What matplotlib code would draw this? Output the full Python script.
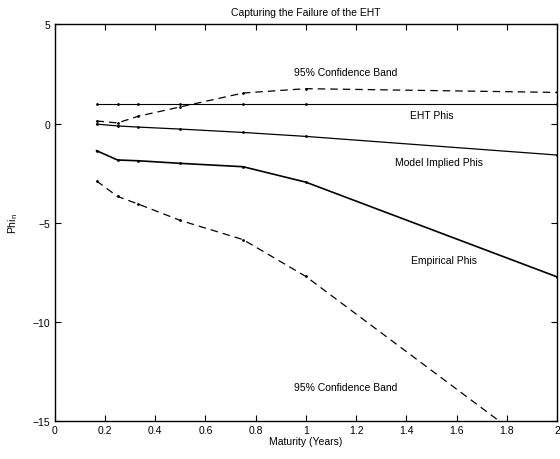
import numpy as np
import matplotlib
matplotlib.use("Agg")
import matplotlib.pyplot as plt
from matplotlib.ticker import FuncFormatter

plt.rcParams["font.family"] = ["Liberation Sans", "DejaVu Sans"]

# maturities in years (2, 3, 4, 6, 9, 12, 24 months)
maturity = [1 / 6, 0.25, 1 / 3, 0.5, 0.75, 1.0, 2.0]

eht_phis = [1.0, 1.0, 1.0, 1.0, 1.0, 1.0, 1.0]
model_phis = [-0.03, -0.12, -0.18, -0.28, -0.45, -0.65, -1.59]
empirical_phis = [-1.37, -1.84, -1.88, -2.01, -2.18, -2.96, -7.74]
band_upper = [0.13, 0.03, 0.37, 0.84, 1.54, 1.76, 1.57]
band_lower = [-2.90, -3.68, -4.07, -4.89, -5.86, -7.72, -17.2]

fig = plt.figure(figsize=(5.6, 4.6), dpi=100)
ax = fig.add_axes([0.0977, 0.0833, 0.897, 0.8613])

line_kw = dict(color="black", marker=".", markersize=2)
ax.plot(maturity, eht_phis, lw=0.8, **line_kw)
ax.plot(maturity, model_phis, lw=0.9, **line_kw)
ax.plot(maturity, empirical_phis, lw=1.2, **line_kw)
ax.plot(maturity, band_upper, lw=0.9, ls=(0, (6, 4)), **line_kw)
ax.plot(maturity, band_lower, lw=0.9, ls=(0, (6, 4)), **line_kw)

fs = 7.5
ax.text(1.16, 2.6, "95% Confidence Band", fontsize=fs, ha="center", va="center")
ax.text(1.5, 0.45, "EHT Phis", fontsize=fs, ha="center", va="center")
ax.text(1.53, -1.95, "Model Implied Phis", fontsize=fs, ha="center", va="center")
ax.text(1.55, -6.9, "Empirical Phis", fontsize=fs, ha="center", va="center")
ax.text(1.16, -13.3, "95% Confidence Band", fontsize=fs, ha="center", va="center")

ax.set_xlim(0, 2)
ax.set_ylim(-15, 5)
ax.set_xticks(np.arange(0, 2.01, 0.2))
ax.set_yticks([-15, -10, -5, 0, 5])
ax.xaxis.set_major_formatter(FuncFormatter(lambda v, p: f"{v:g}"))
ax.tick_params(direction="in", top=True, right=True, labelsize=fs, length=4, width=0.8, pad=3)
for s in ax.spines.values():
    s.set_linewidth(1.0)

ax.set_title("Capturing the Failure of the EHT", fontsize=fs, pad=7)
ax.set_xlabel("Maturity (Years)", fontsize=fs, labelpad=1)
ax.set_ylabel("Phi$_{\\mathrm{n}}$", fontsize=fs, labelpad=9)

fig.savefig("out.png", dpi=100)
